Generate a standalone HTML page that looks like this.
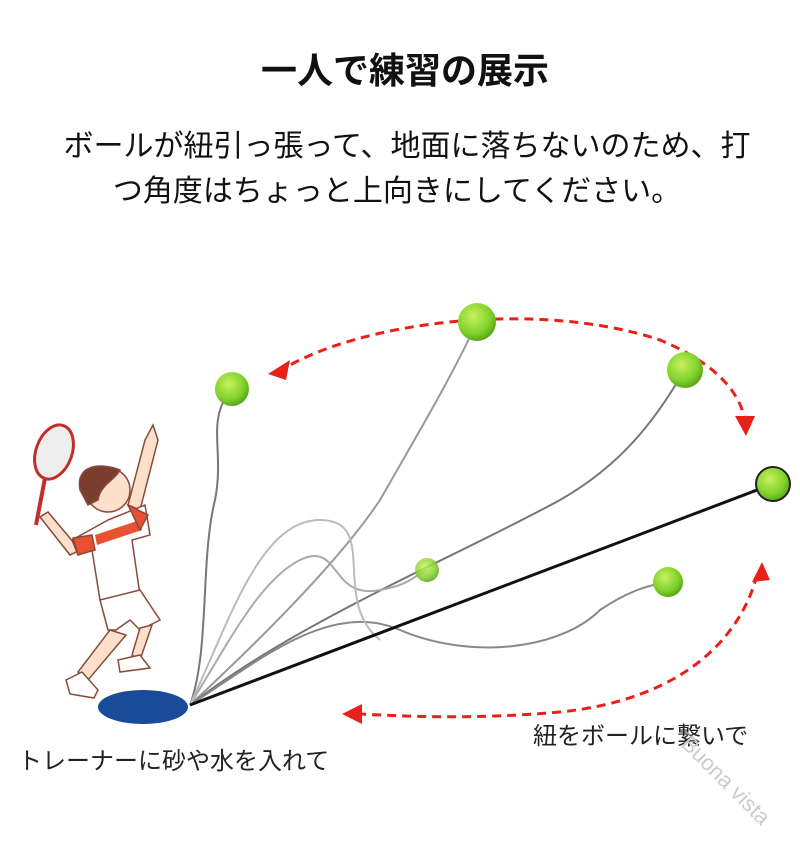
<!DOCTYPE html>
<html><head><meta charset="utf-8"><style>
html,body{margin:0;padding:0;background:#fff;width:800px;height:860px;overflow:hidden}
</style></head><body>
<svg width="800" height="860" viewBox="0 0 800 860" xmlns="http://www.w3.org/2000/svg" font-family="'Liberation Sans','Noto Sans CJK JP',sans-serif">
<defs>
<radialGradient id="b" cx="40%" cy="35%" r="65%"><stop offset="0" stop-color="#c8f060"/><stop offset="0.7" stop-color="#7fd22a"/><stop offset="1" stop-color="#5aa818"/></radialGradient>
</defs>
<text x="405" y="83" text-anchor="middle" font-size="36" font-weight="bold" fill="#111">一人で練習の展示</text>
<text x="407" y="156" text-anchor="middle" font-size="30" fill="#111">ボールが紐引っ張って、地面に落ちないのため、打</text>
<text x="397" y="201" text-anchor="middle" font-size="30" fill="#111">つ角度はちょっと上向きにしてください。</text>

<g fill="none" stroke="#777" stroke-width="2">
<path d="M190 705 C210 650 200 560 215 500 C225 450 205 420 232 389"/>
<path d="M190 705 C260 640 340 560 380 500 C420 430 450 380 477 322" stroke="#999"/>
<path d="M190 705 C300 620 450 560 560 500 C630 460 660 410 685 370"/>
<path d="M190 705 C230 640 260 580 300 560 C340 540 330 600 380 590 C410 585 415 575 427 570" stroke="#aaa"/>
<path d="M190 705 C260 660 330 600 400 630 C470 660 560 650 600 610 C630 590 650 585 668 582" stroke="#888"/>
<path d="M190 705 C230 620 260 520 320 520 C380 520 330 600 380 640" stroke="#bbb"/>
</g>
<line x1="190" y1="705" x2="773" y2="484" stroke="#111" stroke-width="3"/>

<g fill="none" stroke="#e8201a" stroke-width="3" stroke-dasharray="9 6">
<path d="M278 372 C360 320 540 300 660 340 C720 365 740 395 745 420"/>
<path d="M757 575 C740 640 680 700 560 712 C470 720 400 716 360 714"/>
</g>
<polygon points="268,374 290,360 286,380" fill="#e8201a"/>
<polygon points="746,436 735,416 755,416" fill="#e8201a"/>
<polygon points="762,562 752,582 770,580" fill="#e8201a"/>
<polygon points="342,714 362,704 362,724" fill="#e8201a"/>

<circle cx="232" cy="389" r="17" fill="url(#b)"/>
<circle cx="477" cy="322" r="19" fill="url(#b)"/>
<circle cx="685" cy="370" r="18" fill="url(#b)"/>
<circle cx="773" cy="484" r="17" fill="url(#b)" stroke="#222" stroke-width="2"/>
<circle cx="427" cy="570" r="12" fill="url(#b)" opacity="0.85"/>
<circle cx="668" cy="582" r="15" fill="url(#b)"/>

<ellipse cx="143" cy="707" rx="45" ry="17" fill="#1a4a9a"/>
<g stroke="#8a4a3a" stroke-width="1.5">
<ellipse cx="54" cy="452" rx="18" ry="28" fill="#eee" stroke="#c0302a" stroke-width="3" transform="rotate(20 54 452)"/>
<line x1="45" y1="478" x2="36" y2="525" stroke="#c0302a" stroke-width="4"/>
<path d="M40 517 L70 555 L80 550 L48 512Z" fill="#fde0cc"/>
<path d="M145 440 L153 425 L158 440 L140 510 L128 505Z" fill="#fde0cc"/>
<path d="M108 520 L145 505 L150 535 L132 540 L140 595 L100 600 L92 550 L78 555 L72 540Z" fill="#fff"/>
<path d="M95 535 L140 520 L142 530 L97 545Z" fill="#e85030" stroke="none"/>
<path d="M128 505 L148 515 L140 530Z" fill="#e85030"/>
<path d="M73 538 L92 535 L95 550 L78 555Z" fill="#e85030"/>
<path d="M100 600 L140 590 L160 620 L140 630 L130 620 L116 630 L108 630Z" fill="#fff"/>
<path d="M110 630 L78 672 L88 680 L126 635Z" fill="#fde0cc"/>
<path d="M140 628 L132 655 L140 660 L152 625Z" fill="#fde0cc"/>
<path d="M66 680 L82 672 L98 690 L94 698 L70 694Z" fill="#fff"/>
<path d="M118 660 L140 655 L150 668 L120 672Z" fill="#fff"/>
<circle cx="108" cy="490" r="22" fill="#fde0cc"/>
<path d="M80 490 C75 465 100 462 120 470 C115 480 100 485 98 500 L88 505Z" fill="#7a3e2e"/>
</g>

<text x="18" y="769" font-size="24" fill="#222">トレーナーに砂や水を入れて</text>
<text x="533" y="744" font-size="24" fill="#222">紐をボールに繋いで</text>
<text x="680" y="745" font-size="22" fill="#ccc" transform="rotate(45 680 745)">Buona vista</text>
</svg>
</body></html>
